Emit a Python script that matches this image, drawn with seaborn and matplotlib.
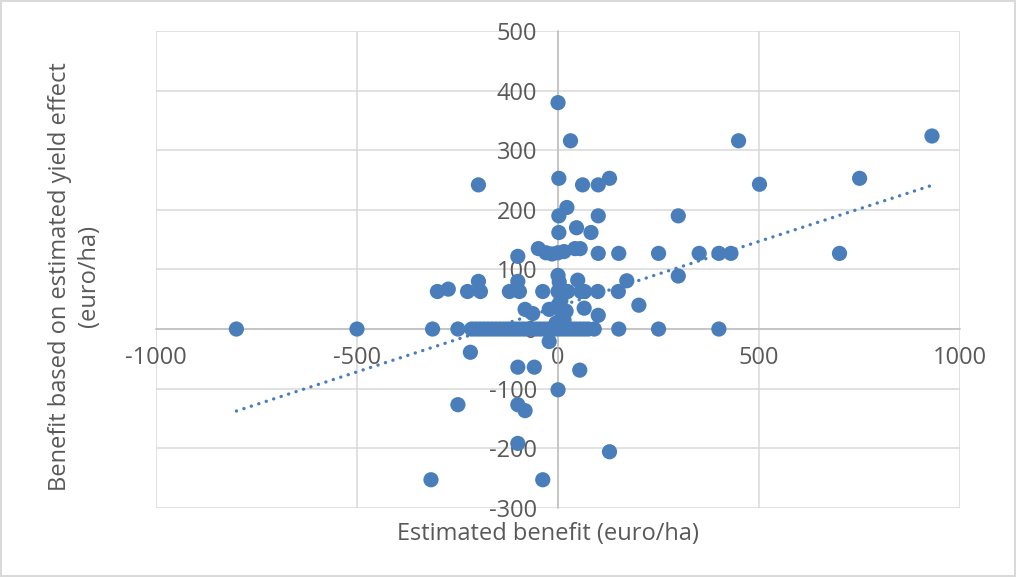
import numpy as np
import pandas as pd
import matplotlib
matplotlib.use("Agg")
import matplotlib.pyplot as plt
import seaborn as sns

# Points (euro/ha)
estimated_benefit = [
    -800, -500, -312, -316, -300, -273, -249, -249, -225, -218, -198, -198, -193,
    -215, -205, -195, -185, -175, -165, -155, -145, -135, -125, -115, -105, -95,
    -85, -75, -65, -55, -45, -35, -25, -15, -5, 5, 15, 25, 35, 45, 55, 65, 75, 90,
    -121, -96, -100, -100, -100, -59, -100, -82, -100, -38,
    -82, -63, -38, -22, -22,
    0, 31, 2, 61, 100, 128, 22, 2, 100, 299, 46, 82, 2,
    -49, -30, -15, 0, 15, 42, 55,
    100, 151, 250, 351, 400, 430, 700, 449, 930, 501, 750,
    0, 3, 49, 171, 299,
    0, 24, 57, 66, 99, 150,
    0, 7, 10, 15, -5, 20, 65, 100, 201,
    151, 250, 400, 0, 54, 128,
]
yield_benefit = [
    0, 0, 0, -253, 63, 67, 0, -127, 63, -39, 242, 80, 63,
    0, 0, 0, 0, 0, 0, 0, 0, 0, 0, 0, 0, 0,
    0, 0, 0, 0, 0, 0, 0, 0, 0, 0, 0, 0, 0, 0, 0, 0, 0, 0,
    63, 63, 80, 122, -64, -64, -127, -137, -192, -253,
    33, 26, 63, 33, -21,
    380, 316, 253, 242, 242, 253, 204, 190, 190, 190, 170, 162, 162,
    135, 128, 126, 128, 130, 135, 135,
    127, 127, 127, 127, 127, 127, 127, 316, 324, 243, 253,
    90, 79, 82, 81, 89,
    63, 63, 63, 63, 63, 63,
    40, 48, 25, 15, 10, 30, 35, 23, 40,
    0, 0, 0, -102, -69, -206,
]

# linear trendline as shown in the chart
trend_slope = 0.219
trend_intercept = 37.6

x_ticks = [-1000, -500, 0, 500, 1000]
y_ticks = [-300, -200, -100, 0, 100, 200, 300, 400, 500]

df = pd.DataFrame({"x": estimated_benefit, "y": yield_benefit})

sns.set_theme(style="white")
plt.rcParams["font.family"] = ["Open Sans", "DejaVu Sans"]
plt.rcParams["axes.unicode_minus"] = False

blue = "#4A7EBB"
txt = "#595959"

fig = plt.figure(figsize=(10.16, 5.77), dpi=100)
fig.patch.set_edgecolor("#d9d9d9")
fig.patch.set_linewidth(1.5)
ax = fig.add_axes([0.1535, 0.12, 0.7915, 0.826])

sns.scatterplot(data=df, x="x", y="y", ax=ax, color=blue, s=120,
                edgecolor="none", linewidth=0, zorder=3)

tx = np.array([df["x"].min(), df["x"].max()])
ax.plot(tx, trend_slope * tx + trend_intercept, color=blue, lw=2.4,
        linestyle=(0, (0.05, 2.3)), dash_capstyle="round", zorder=2)

ax.set_xlim(-1000, 1000)
ax.set_ylim(-300, 500)
ax.set_xticks(x_ticks)
ax.set_yticks(y_ticks)
ax.grid(True, color="#d9d9d9", lw=1.1)
ax.set_axisbelow(True)

for side in ["top", "right"]:
    ax.spines[side].set_visible(False)
ax.spines["left"].set_position(("data", 0))
ax.spines["bottom"].set_position(("data", 0))
for side in ["left", "bottom"]:
    ax.spines[side].set_color("#bfbfbf")
    ax.spines[side].set_linewidth(1.1)

ax.tick_params(axis="y", length=0, pad=15, labelsize=17, labelcolor=txt)
ax.tick_params(axis="x", length=0, pad=12, labelsize=17, labelcolor=txt)

ax.set_xlabel("Estimated benefit (euro/ha)", fontsize=17, color=txt)
ax.xaxis.set_label_coords(0.487, -0.03)
ax.xaxis.label.set_va("top")
ax.set_ylabel("Benefit based on estimated yield effect\n(euro/ha)", fontsize=17,
              color=txt, linespacing=1.25)
ax.yaxis.set_label_coords(-0.101, 0.486)
ax.yaxis.label.set_va("center")

plt.savefig("out.png", dpi=100)
